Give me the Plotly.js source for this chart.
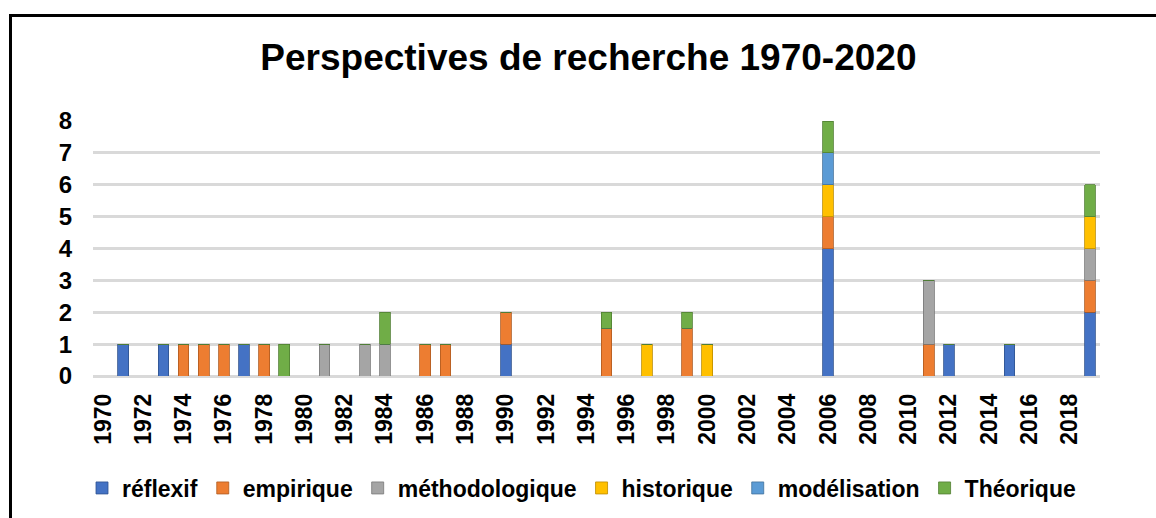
<!DOCTYPE html>
<html>
<head>
<meta charset="utf-8">
<script src="https://cdn.plot.ly/plotly-3.0.1.min.js"></script>
<style>
html,body{margin:0;padding:0;background:#fff;}
#wrap{position:absolute;left:0;top:0;width:1156px;height:518px;overflow:hidden;}
#frame{position:absolute;left:9px;top:14px;width:1160px;height:520px;border-left:3px solid #000;border-top:3px solid #000;pointer-events:none;}
#chart{position:absolute;left:0;top:0;width:1156px;height:518px;}
</style>
</head>
<body>
<div id="wrap"><div id="chart"></div><div id="frame"></div></div>
<script>
const years = [];
for (let y = 1970; y <= 2019; y++) years.push(String(y));
const tickYears = ["1970","1972","1974","1976","1978","1980","1982","1984","1986","1988","1990","1992","1994","1996","1998","2000","2002","2004","2006","2008","2010","2012","2014","2016","2018"];

//            1970 71 72 73 74 75 76 77 78 79 80 81 82 83 84 85 86 87 88 89 90 91 92 93 94 95  96 97 98 99  2000 01 02 03 04 05 06 07 08 09 10 11 12 13 14 15 16 17 18 19
const reflexif      = [0,1,0,1,0,0,0,1,0,0,0,0,0,0,0,0,0,0,0,0,1,0,0,0,0,0,  0,0,0,0,  0,0,0,0,0,0,4,0,0,0,0,0,1,0,0,1,0,0,0,2];
const empirique     = [0,0,0,0,1,1,1,0,1,0,0,0,0,0,0,0,1,1,0,0,1,0,0,0,0,1.5,0,0,0,1.5,0,0,0,0,0,0,1,0,0,0,0,1,0,0,0,0,0,0,0,1];
const methodologique= [0,0,0,0,0,0,0,0,0,0,0,1,0,1,1,0,0,0,0,0,0,0,0,0,0,0,  0,0,0,0,  0,0,0,0,0,0,0,0,0,0,0,2,0,0,0,0,0,0,0,1];
const historique    = [0,0,0,0,0,0,0,0,0,0,0,0,0,0,0,0,0,0,0,0,0,0,0,0,0,0,  0,1,0,0,  1,0,0,0,0,0,1,0,0,0,0,0,0,0,0,0,0,0,0,1];
const modelisation  = [0,0,0,0,0,0,0,0,0,0,0,0,0,0,0,0,0,0,0,0,0,0,0,0,0,0,  0,0,0,0,  0,0,0,0,0,0,1,0,0,0,0,0,0,0,0,0,0,0,0,0];
const theorique     = [0,0,0,0,0,0,0,0,0,1,0,0,0,0,1,0,0,0,0,0,0,0,0,0,0,0.5,0,0,0,0.5,0,0,0,0,0,0,1,0,0,0,0,0,0,0,0,0,0,0,0,1];

const seriesNames = ["réflexif","empirique","méthodologique","historique","modélisation","Théorique"];
const seriesData = [reflexif, empirique, methodologique, historique, modelisation, theorique];
const colors = ["#4472C4","#ED7D31","#A5A5A5","#FFC000","#5B9BD5","#70AD47"];
const lineColors = ["#2F528F","#AE5A21","#787878","#BC8C00","#41719C","#507E32"];

const traces = seriesNames.map((n, i) => ({
  type: "bar",
  name: "<b>" + n + "</b>",
  x: years,
  y: seriesData[i],
  marker: {color: colors[i], line: {color: lineColors[i], width: 0.8}},
  hoverinfo: "x+y+name"
}));

const font = "Liberation Sans, Arial, sans-serif";
const layout = {
  width: 1156, height: 518,
  paper_bgcolor: "#fff", plot_bgcolor: "#fff",
  barmode: "stack",
  bargap: 0.47,
  margin: {l: 93, r: 56, t: 121, b: 142},
  title: {
    text: "<b>Perspectives de recherche 1970-2020</b>",
    font: {family: font, size: 37, color: "#000"},
    x: 0.509, xanchor: "center", y: 1 - 57/518, yanchor: "middle", yref: "container"
  },
  xaxis: {
    type: "category",
    tickmode: "array", tickvals: tickYears, ticktext: tickYears.map(t => "<b>" + t + "</b>"),
    tickangle: -90,
    tickfont: {family: font, size: 23, color: "#000"},
    showgrid: false, zeroline: false, showline: false, ticks: "",
    ticklabelstandoff: 12
  },
  yaxis: {
    range: [0, 8],
    tickvals: [0,1,2,3,4,5,6,7,8], ticktext: [0,1,2,3,4,5,6,7,8].map(v => "<b>" + v + "</b>"),
    tickfont: {family: font, size: 24, color: "#000"},
    showgrid: true, gridcolor: "#D9D9D9", gridwidth: 3,
    zeroline: true, zerolinecolor: "#D9D9D9", zerolinewidth: 3,
    showline: false, ticks: "", ticklabelstandoff: 20
  },
  legend: {
    orientation: "h",
    x: 82/1156, xref: "container", xanchor: "left",
    y: 1 - 488/518, yref: "container", yanchor: "middle",
    font: {family: font, size: 23, color: "#000"},
    traceorder: "normal",
    itemwidth: 30
  },
  showlegend: true
};

Plotly.newPlot("chart", traces, layout, {displayModeBar: false, staticPlot: true});
</script>
</body>
</html>
